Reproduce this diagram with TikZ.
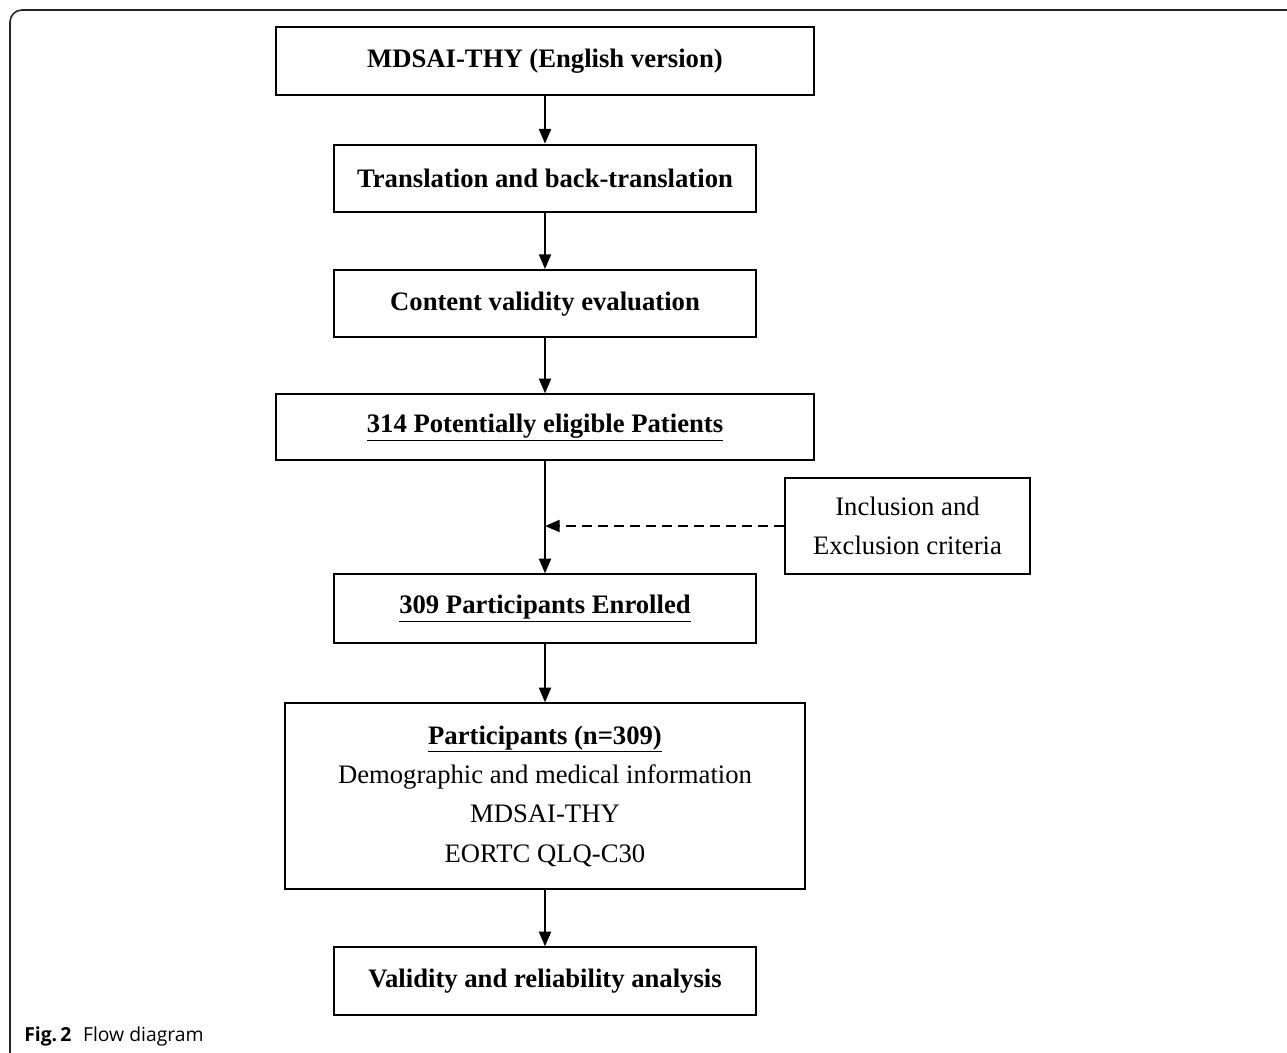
\documentclass[tikz,border=0pt]{standalone}
\usepackage{fontspec}
\setmainfont{Liberation Serif}
\newfontfamily\capfont{Open Sans}
\usetikzlibrary{positioning,arrows.meta}

\begin{document}
\begin{tikzpicture}[
    x=0.75pt, y=-0.75pt,
    stage/.style={rectangle, draw, line width=1.5pt, minimum width=317pt, minimum height=50.5pt, inner sep=0pt, align=center, font=\fontsize{20}{29.5}\selectfont\bfseries},
    widestage/.style={stage, minimum width=403.5pt},
    note/.style={rectangle, draw, line width=1.5pt, minimum width=184pt, minimum height=72pt, inner sep=0pt, align=center, font=\fontsize{20}{29.5}\selectfont},
    line/.style={draw, line width=1.5pt, -{Triangle[length=11pt,width=9pt]}}
]
\useasboundingbox (0,0) rectangle (1287,1052);

% Frame of the figure
\draw[line width=1.2pt, black!85, rounded corners=9pt] (10,1060) -- (10,10) -- (1300,10);

% Translation steps
\node[widestage] (orig) at (545,61) {MDSAI-THY (English version)};
\node[stage, below=36pt of orig] (trans) {Translation and back-translation};
\node[stage, below=42pt of trans] (content) {Content validity evaluation};
\draw[line] (orig) -- (trans);
\draw[line] (trans) -- (content);

% Recruitment
\node[widestage, minimum height=49.5pt, below=41.25pt of content] (elig) {\underline{314 Potentially eligible Patients}};
\node[stage, minimum height=51.75pt, below=84pt of elig] (enrol) {\underline{309 Participants Enrolled}};
\node[note] (criteria) at (907.5,526) {Inclusion and\\Exclusion criteria};
\draw[line] (content) -- (elig);
\draw[line] (elig) -- (enrol);
\draw[line, dashed, dash pattern=on 7.5pt off 4.5pt] (criteria.west) -- (criteria.west -| elig.south);

% Data collection and analysis
\node[stage, minimum width=390pt, minimum height=139pt, below=43.5pt of enrol, font=\fontsize{20}{29.5}\selectfont] (data) {\textbf{\underline{Participants (n=309)}}\\Demographic and medical information\\MDSAI-THY\\EORTC QLQ-C30};
\node[stage, below=42.5pt of data] (analysis) {Validity and reliability analysis};
\draw[line] (enrol) -- (data);
\draw[line] (data) -- (analysis);

% Caption
\node[anchor=base west, inner sep=0pt, font=\capfont\fontsize{14.5}{17}\selectfont] (caption) at (24,1041) {\textbf{Fig.\,2}\hspace{0.6em}Flow diagram};

\end{tikzpicture}
\end{document}
